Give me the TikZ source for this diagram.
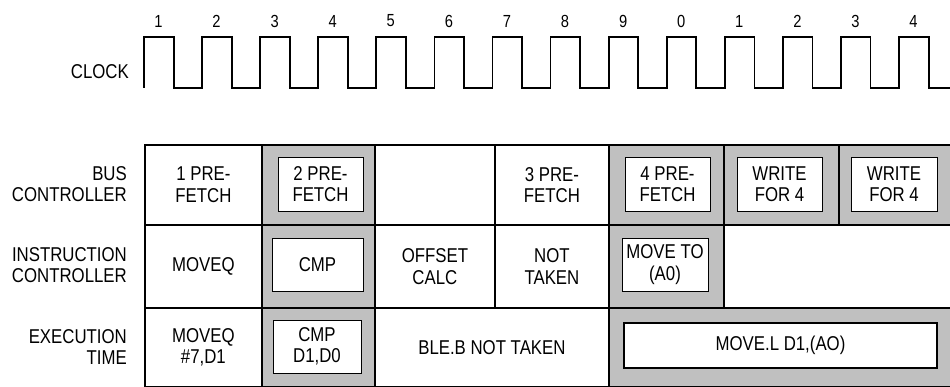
\documentclass[tikz,border=0pt]{standalone}
\usepackage{fontspec}
\setmainfont{Liberation Sans}[FakeStretch=0.84]
\usepackage{xcolor}
\usetikzlibrary{positioning}
\definecolor{busygray}{RGB}{192,192,192}

\begin{document}
\begin{tikzpicture}[
  x=1pt, y=-1pt,
  lbl/.style={font=\fontsize{20}{21.5}\selectfont, align=center, inner sep=0pt},
  rowlbl/.style={lbl, align=right, anchor=east},
  tick/.style={font=\fontsize{17.5}{19}\selectfont, inner sep=0pt},
  cell/.style={lbl, draw, line width=1.8pt, anchor=north west, minimum height=#1},
  busy/.style={cell=#1, fill=busygray},
  inbox/.style={lbl, draw, fill=white, line width=0.9pt}
]
\useasboundingbox (0,0) rectangle (950,387);

% clock
\node[rowlbl] (clk) at (129,72) {CLOCK};
\draw[line width=1.8pt] (144,88)
  \foreach \k in {0,...,13} { -- ++(0,-51) -- ++(29.6,0) -- ++(0,51) -- ++(28.48,0) };
\foreach \n [count=\i from 0] in {1,2,3,4,5,6,7,8,9,0,1,2,3,4}
  \node[tick] (t\i) at (158.5+58.08*\i,21) {\n};

% row labels
\node[rowlbl] (buslbl) at (127,184) {BUS\\CONTROLLER};
\node[rowlbl] (inslbl) at (127,265) {INSTRUCTION\\CONTROLLER};
\node[rowlbl] (exelbl) at (127,347) {EXECUTION\\TIME};

% bus controller
\node[cell=80, minimum width=117] (bus1) at (144,144) {1 PRE-\\FETCH};
\node[busy=80, minimum width=113] (bus2) at (261,144) {};
\node[cell=80, minimum width=120] (busidle) at (374,144) {};
\node[cell=80, minimum width=114] (bus3) at (494,144) {3 PRE-\\FETCH};
\node[busy=80, minimum width=115] (bus4) at (608,144) {};
\node[busy=80, minimum width=115] (bus5) at (723,144) {};
\node[busy=80, minimum width=116] (bus6) at (838,144) {};
\node[inbox, minimum width=85, minimum height=54] (fetch2) at (320.5,184) {2 PRE-\\FETCH};
\node[inbox, minimum width=85, minimum height=54] (fetch4) at (667.5,184) {4 PRE-\\FETCH};
\node[inbox, minimum width=85, minimum height=54] (write1) at (779.5,184) {WRITE\\FOR 4};
\node[inbox, minimum width=86, minimum height=54] (write2) at (894,184) {WRITE\\FOR 4};

% instruction controller
\node[cell=83, minimum width=117] (ins1) at (144,224) {MOVEQ};
\node[busy=83, minimum width=113] (ins2) at (261,224) {};
\node[cell=83, minimum width=120] (ins3) at (374,224) {OFFSET\\CALC};
\node[cell=83, minimum width=114] (ins4) at (494,224) {NOT\\TAKEN};
\node[busy=83, minimum width=115] (ins5) at (608,224) {};
\node[cell=83, minimum width=231] (insidle) at (723,224) {};
\node[inbox, minimum width=91, minimum height=53] (cmp) at (317.5,264.5) {CMP};
\node[inbox, minimum width=86, minimum height=53] (moveto) at (665,264.5) {MOVE TO\\(A0)};

% execution time
\node[cell=79, minimum width=117] (exe1) at (144,307) {MOVEQ\\\#7,D1};
\node[busy=79, minimum width=113] (exe2) at (261,307) {};
\node[cell=79, minimum width=234] (exe3) at (374,307) {BLE.B NOT TAKEN};
\node[busy=79, minimum width=346] (exe4) at (608,307) {};
\node[inbox, minimum width=88, minimum height=53] (cmpexe) at (317,346.5) {CMP\\D1,D0};
\node[inbox, line width=2pt, minimum width=313, minimum height=45] (movel) at (780.5,345.5) {MOVE.L D1,(AO)};
\end{tikzpicture}
\end{document}
